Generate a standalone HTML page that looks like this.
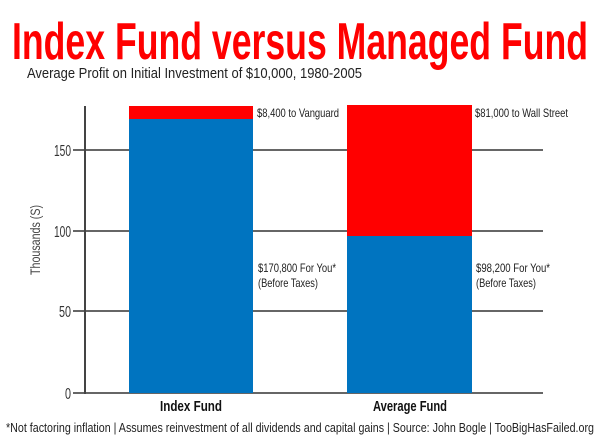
<!DOCTYPE html>
<html><head><style>
body{margin:0;background:#fff;width:600px;height:440px;overflow:hidden;font-family:"Liberation Sans",sans-serif}
</style></head><body>
<svg width="600" height="440" xmlns="http://www.w3.org/2000/svg" font-family="Liberation Sans, sans-serif">
<text x="300" y="59" text-anchor="middle" font-size="52" font-weight="bold" fill="#f00" textLength="576" lengthAdjust="spacingAndGlyphs">Index Fund versus Managed Fund</text>
<text x="27" y="78" font-size="15" fill="#222" textLength="335" lengthAdjust="spacingAndGlyphs">Average Profit on Initial Investment of $10,000, 1980-2005</text>
<g stroke="#666" stroke-width="2">
<line x1="73" y1="150" x2="543" y2="150"/>
<line x1="73" y1="231" x2="543" y2="231"/>
<line x1="73" y1="311" x2="543" y2="311"/>
<line x1="73" y1="393" x2="543" y2="393"/>
</g>
<rect x="129" y="106" width="124" height="14" fill="#f00"/>
<rect x="129" y="119" width="124" height="274" fill="#0074c0"/>
<rect x="347" y="105" width="125" height="131" fill="#f00"/>
<rect x="347" y="236" width="125" height="157" fill="#0074c0"/>
<line x1="85" y1="106" x2="85" y2="394" stroke="#444" stroke-width="2"/>
<g font-size="16" fill="#333" text-anchor="end">
<text x="71" y="156" textLength="17" lengthAdjust="spacingAndGlyphs">150</text><text x="71" y="237" textLength="17" lengthAdjust="spacingAndGlyphs">100</text><text x="71" y="317" textLength="12" lengthAdjust="spacingAndGlyphs">50</text><text x="71" y="399" textLength="6" lengthAdjust="spacingAndGlyphs">0</text>
</g>
<text transform="translate(40,240) rotate(-90)" text-anchor="middle" font-size="14" fill="#444" textLength="70" lengthAdjust="spacingAndGlyphs">Thousands (S)</text>
<g font-size="12" fill="#222">
<text x="257" y="117" textLength="82" lengthAdjust="spacingAndGlyphs">$8,400 to Vanguard</text>
<text x="475" y="117" textLength="93" lengthAdjust="spacingAndGlyphs">$81,000 to Wall Street</text>
<text x="258" y="272" textLength="78" lengthAdjust="spacingAndGlyphs">$170,800 For You*</text>
<text x="258" y="287" textLength="60" lengthAdjust="spacingAndGlyphs">(Before Taxes)</text>
<text x="476" y="272" textLength="74" lengthAdjust="spacingAndGlyphs">$98,200 For You*</text>
<text x="476" y="287" textLength="60" lengthAdjust="spacingAndGlyphs">(Before Taxes)</text>
</g>
<g font-size="15" font-weight="bold" fill="#111" text-anchor="middle">
<text x="191" y="411" textLength="62" lengthAdjust="spacingAndGlyphs">Index Fund</text>
<text x="410" y="411" textLength="74" lengthAdjust="spacingAndGlyphs">Average Fund</text>
</g>
<text x="300" y="432" text-anchor="middle" font-size="13" fill="#222" textLength="588" lengthAdjust="spacingAndGlyphs">*Not factoring inflation  |  Assumes reinvestment of all dividends and capital gains  |  Source: John Bogle  |  TooBigHasFailed.org</text>
</svg>
</body></html>
